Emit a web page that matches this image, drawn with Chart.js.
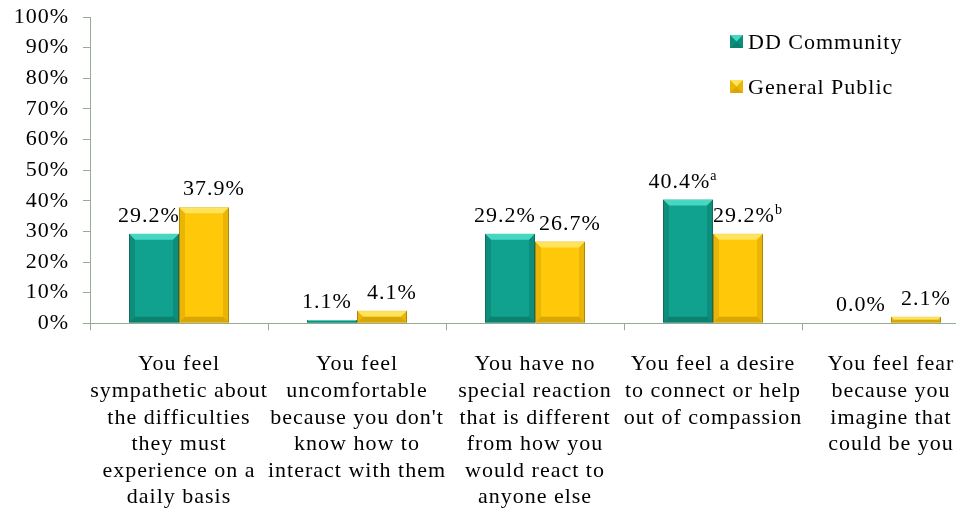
<!DOCTYPE html>
<html>
<head>
<meta charset="utf-8">
<script src="https://cdn.jsdelivr.net/npm/chart.js@4"></script>
<style>
html, body { margin: 0; padding: 0; background: #fff; overflow: hidden; }
#wrap { width: 956px; height: 513px; overflow: hidden; }
</style>
</head>
<body>
<div id="wrap"><canvas id="chart" width="980" height="513"></canvas></div>
<script>
// chart values
var categories = [
    ['You feel', 'sympathetic about', 'the difficulties', 'they must', 'experience on a', 'daily basis'],
    ['You feel', 'uncomfortable', "because you don't", 'know how to', 'interact with them'],
    ['You have no', 'special reaction', 'that is different', 'from how you', 'would react to', 'anyone else'],
    ['You feel a desire', 'to connect or help', 'out of compassion'],
    ['You feel fear', 'because you', 'imagine that', 'could be you']
];
var seriesNames = ['DD Community', 'General Public'];
var ddCommunity = [29.2, 1.1, 29.2, 40.4, 0.0];
var generalPublic = [37.9, 4.1, 26.7, 29.2, 2.1];
var ddNotes = ['', '', '', 'a', ''];
var gpNotes = ['', '', '', 'b', ''];
var yTickValues = [0, 10, 20, 30, 40, 50, 60, 70, 80, 90, 100];

var FONT = '"Liberation Serif", "Times New Roman", serif';
var AXIS = '#93ad93';
var TEXT = '#000';
var SPACING = '1px';

var palette = [
    { main: '#10a28e', light: '#4fe0cb', dark: '#0a6a5c', border: '#1b6b5d' },
    { main: '#ffc90a', light: '#ffe76a', dark: '#c08f00', border: '#a98200' }
];

function bevel(ctx, l, t, r, b, pal) {
    var h = b - t, w = r - l;
    if (h <= 0) return;
    var e = Math.min(6, h / 2, w / 2);
    ctx.save();
    // top face
    ctx.fillStyle = pal.light;
    ctx.globalAlpha = 0.85;
    ctx.beginPath();
    ctx.moveTo(l, t); ctx.lineTo(r, t); ctx.lineTo(r - e, t + e); ctx.lineTo(l + e, t + e);
    ctx.closePath(); ctx.fill();
    // sides
    ctx.fillStyle = pal.dark;
    ctx.globalAlpha = 0.35;
    ctx.beginPath();
    ctx.moveTo(l, t); ctx.lineTo(l + e, t + e); ctx.lineTo(l + e, b - e); ctx.lineTo(l, b);
    ctx.closePath(); ctx.fill();
    ctx.beginPath();
    ctx.moveTo(r, t); ctx.lineTo(r - e, t + e); ctx.lineTo(r - e, b - e); ctx.lineTo(r, b);
    ctx.closePath(); ctx.fill();
    // bottom face
    ctx.globalAlpha = 0.6;
    ctx.beginPath();
    ctx.moveTo(l, b); ctx.lineTo(r, b); ctx.lineTo(r - e, b - e); ctx.lineTo(l + e, b - e);
    ctx.closePath(); ctx.fill();
    ctx.restore();
}

var spacingPlugin = {
    id: 'spacing',
    afterInit: function (chart) { chart.ctx.letterSpacing = SPACING; },
    beforeDraw: function (chart) { chart.ctx.letterSpacing = SPACING; }
};

var barsPlugin = {
    id: 'bars',
    afterDatasetsDraw: function (chart) {
        var ctx = chart.ctx;
        var notes = [ddNotes, gpNotes];
        var shift = [-5, 10];
        chart.data.datasets.forEach(function (ds, di) {
            var meta = chart.getDatasetMeta(di);
            meta.data.forEach(function (el, i) {
                var p = el.getProps(['x', 'y', 'base', 'width'], true);
                bevel(ctx, p.x - p.width / 2, Math.min(p.y, p.base), p.x + p.width / 2, Math.max(p.y, p.base), palette[di]);

                // value label
                var txt = ds.data[i].toFixed(1) + '%';
                var note = notes[di][i];
                ctx.save();
                ctx.letterSpacing = SPACING;
                ctx.font = '22px ' + FONT;
                var w1 = ctx.measureText(txt).width;
                ctx.font = '14px ' + FONT;
                var w2 = note ? ctx.measureText(note).width : 0;
                var x0 = p.x + shift[di] - (w1 + w2) / 2;
                var by = p.y - 12;
                ctx.fillStyle = TEXT;
                ctx.textAlign = 'left';
                ctx.textBaseline = 'alphabetic';
                ctx.font = '22px ' + FONT;
                ctx.fillText(txt, x0, by);
                if (note) {
                    ctx.font = '14px ' + FONT;
                    ctx.fillText(note, x0 + w1, by - 8);
                }
                ctx.restore();
            });
        });
    },
    afterDraw: function (chart) {
        // legend, top right
        var ctx = chart.ctx;
        var lx = 730, ly = [42, 87];
        ctx.save();
        ctx.letterSpacing = SPACING;
        chart.data.datasets.forEach(function (ds, di) {
            var pal = palette[di];
            var s = 13, t = ly[di] - 7;
            ctx.fillStyle = pal.main;
            ctx.fillRect(lx, t, s, s);
            bevel(ctx, lx, t, lx + s, t + s, pal);
            ctx.fillStyle = TEXT;
            ctx.font = '22px ' + FONT;
            ctx.textAlign = 'left';
            ctx.textBaseline = 'middle';
            ctx.fillText(ds.label, lx + 18, ly[di] + 1);
        });
        ctx.restore();
    }
};

var ctx = document.getElementById('chart').getContext('2d');
new Chart(ctx, {
    type: 'bar',
    data: {
        labels: categories,
        datasets: [
            {
                label: seriesNames[0],
                data: ddCommunity,
                backgroundColor: palette[0].main,
                borderColor: palette[0].border,
                borderWidth: 1
            },
            {
                label: seriesNames[1],
                data: generalPublic,
                backgroundColor: palette[1].main,
                borderColor: palette[1].border,
                borderWidth: 1
            }
        ]
    },
    options: {
        responsive: false,
        animation: false,
        layout: { padding: { left: 10, top: 17, right: 0, bottom: -19 } },
        datasets: {
            bar: { categoryPercentage: 0.562, barPercentage: 1.0 }
        },
        plugins: {
            legend: { display: false },
            tooltip: { enabled: false }
        },
        scales: {
            x: {
                grid: { drawOnChartArea: false, tickLength: 7, color: AXIS, offset: true },
                border: { color: AXIS, width: 1 },
                ticks: {
                    color: TEXT,
                    padding: 21,
                    maxRotation: 0,
                    autoSkip: false,
                    font: { family: FONT, size: 22, lineHeight: 1.21 }
                }
            },
            y: {
                min: 0,
                max: 100,
                afterBuildTicks: function (axis) {
                    axis.ticks = yTickValues.map(function (v) { return { value: v }; });
                },
                afterFit: function (axis) {
                    axis.width = 80;
                    axis.paddingTop = 0;
                    axis.paddingBottom = 0;
                },
                grid: { drawOnChartArea: false, tickLength: 7, color: AXIS },
                border: { color: AXIS, width: 1 },
                ticks: {
                    color: TEXT,
                    padding: 14,
                    autoSkip: false,
                    font: { family: FONT, size: 22 },
                    callback: function (v) { return v + '%'; }
                }
            }
        }
    },
    plugins: [spacingPlugin, barsPlugin]
});
</script>
</body>
</html>
